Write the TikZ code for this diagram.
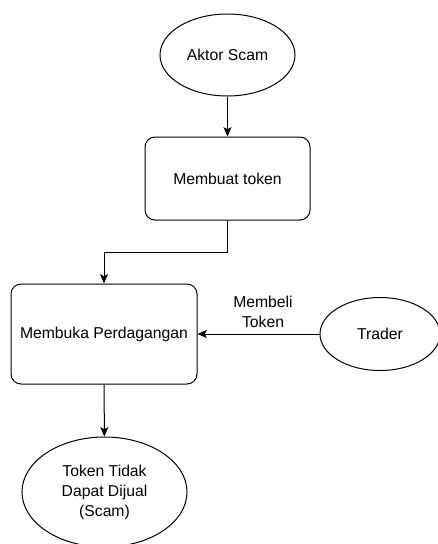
\documentclass[tikz,border=0pt]{standalone}
\usepackage{fontspec}
\setmainfont{Liberation Sans}
\usetikzlibrary{shapes.geometric,arrows.meta}

\tikzset{every picture/.style={line width=0.75pt}}
\tikzset{
	elips/.style={draw, ellipse, inner sep=0pt, align=center},
	kotak/.style={draw, rectangle, rounded corners=7.5pt, inner sep=0pt, align=center},
	panah/.style={-{Stealth[length=7pt,width=6pt,inset=1.5pt]}},
	teks/.style={font=\fontsize{11.8}{15}\selectfont}
}

\begin{document}
\begin{tikzpicture}[x=0.75pt,y=0.75pt,yscale=-1,xscale=1]
	\useasboundingbox (0,0) rectangle (437,544);
	
	% Aktor Scam
	\node [elips, teks, minimum width=101.25pt, minimum height=61.5pt] (aktor) at (227.5,55) {Aktor Scam};
	% Membuat token
	\node [kotak, teks, minimum width=123.75pt, minimum height=62.25pt] (buat) at (227.5,178.5) {Membuat token};
	% Membuka Perdagangan
	\node [kotak, teks, minimum width=139.5pt, minimum height=75pt] (buka) at (104,334) {Membuka Perdagangan};
	% Trader
	\node [elips, teks, minimum width=90pt, minimum height=54.75pt] (trader) at (380,334) {Trader};
	% Token Tidak Dapat Dijual
	\node [elips, teks, minimum width=123.75pt, minimum height=82.5pt] (jual) at (104.5,492) {Token Tidak\\Dapat Dijual\\(Scam)};
	
	% Connectors
	\draw [panah] (aktor) -- (buat);
	\draw [panah] (buat.south) -- ++(0,32) -| (buka.north);
	\draw [panah] (trader) -- (buka);
	\draw [panah] (buka) -- (jual);
	
	% Text Node
	\node [teks, align=center] (beli) at (263,312) {Membeli\\Token};
	
\end{tikzpicture}
\end{document}
